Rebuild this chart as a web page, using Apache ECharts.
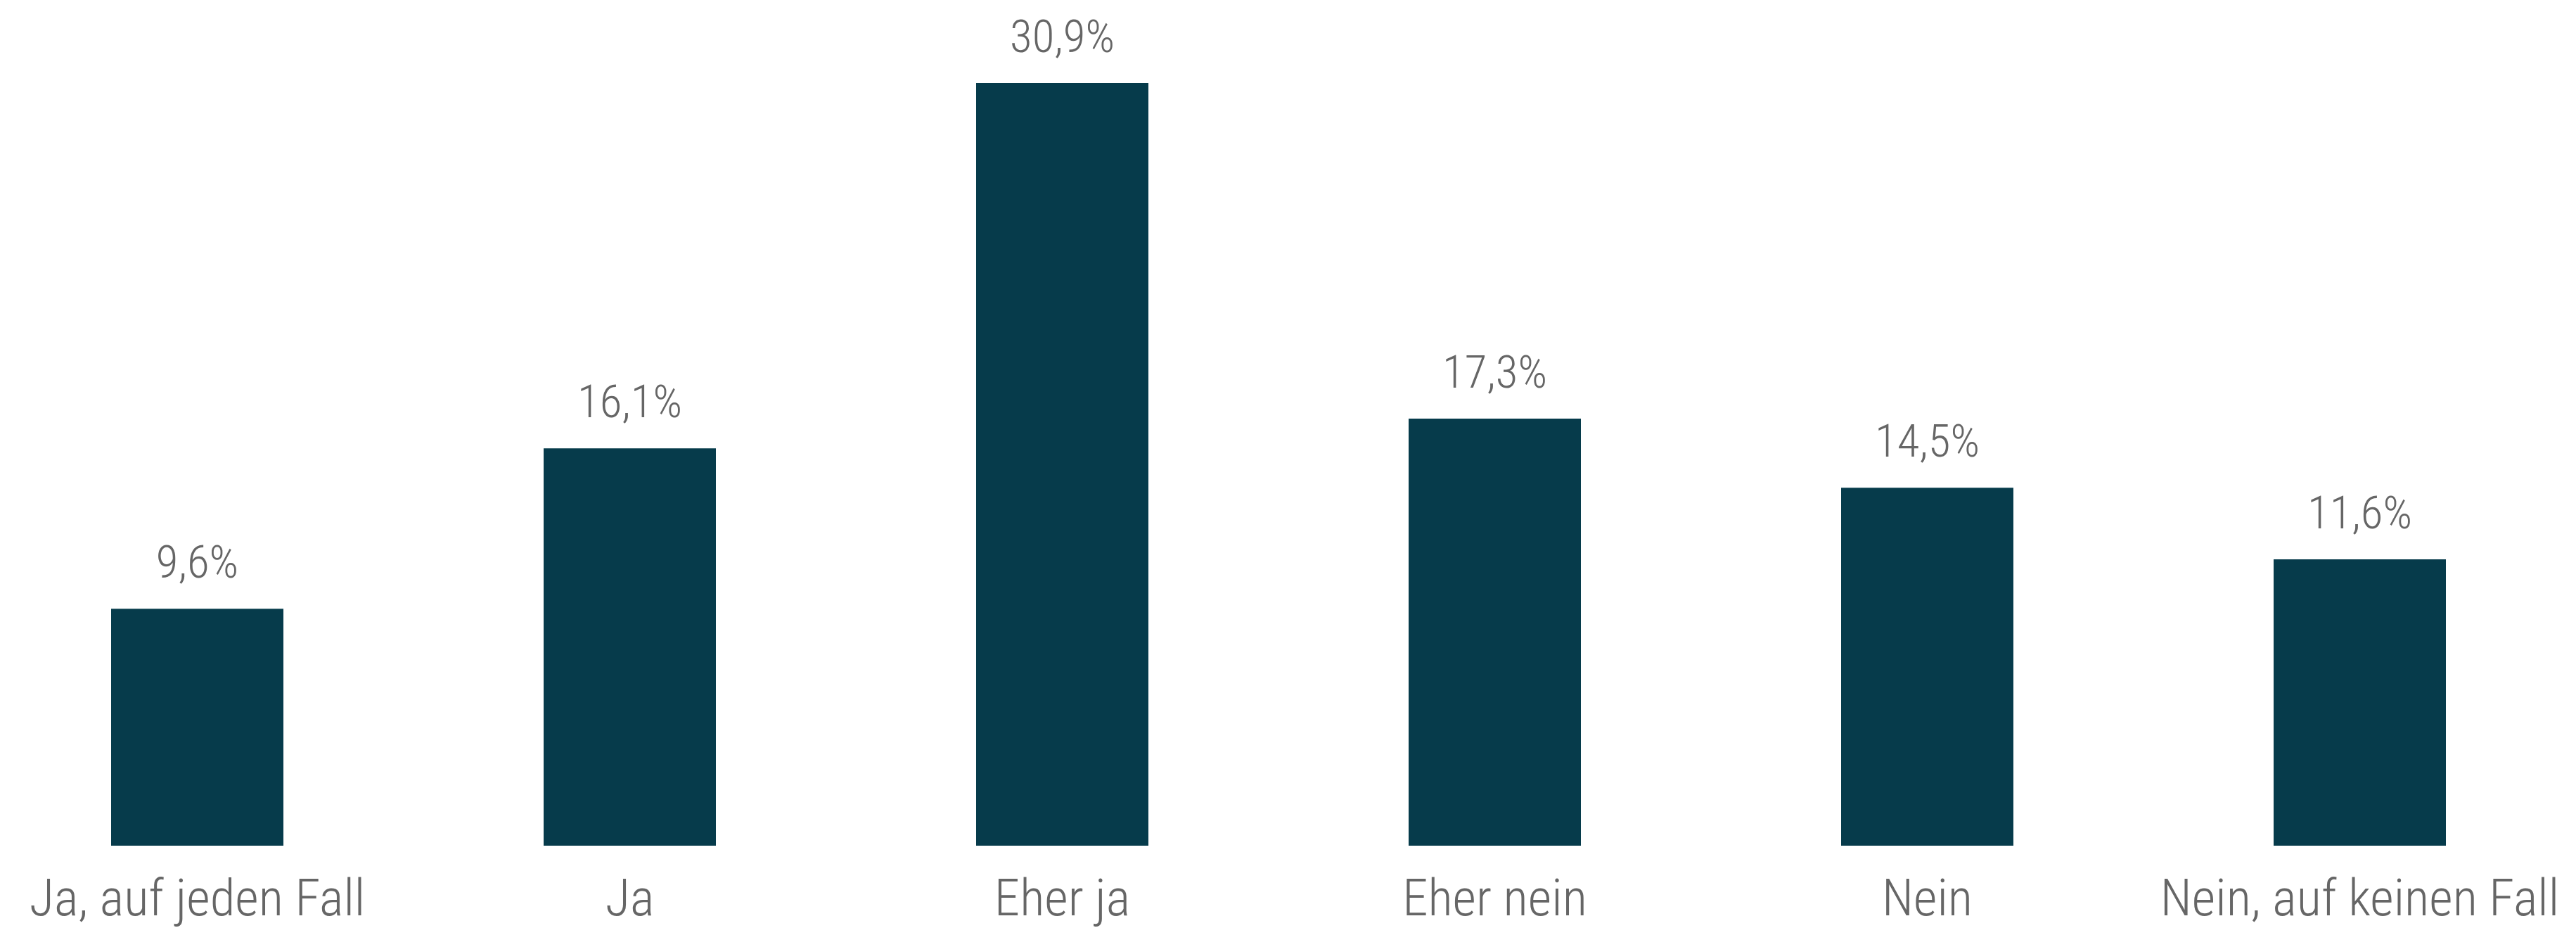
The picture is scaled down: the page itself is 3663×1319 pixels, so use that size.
<!DOCTYPE html>
<html>
<head>
<meta charset="utf-8">
<script src="https://cdn.jsdelivr.net/npm/echarts@6/dist/echarts.min.js"></script>
<style>
html,body{margin:0;padding:0;background:#fff;overflow:hidden;}
#chart{width:3690px;height:1319px;margin-left:-27px;}
</style>
</head>
<body>
<div id="chart"></div>
<script>
const categories = ["Ja, auf jeden Fall", "Ja", "Eher ja", "Eher nein", "Nein", "Nein, auf keinen Fall"];
const values = [9.6, 16.1, 30.9, 17.3, 14.5, 11.6];
const valueLabels = ["9,6%", "16,1%", "30,9%", "17,3%", "14,5%", "11,6%"];

const FONT = "'Roboto Condensed', 'Open Sans Condensed', 'DejaVu Sans Condensed', Roboto, sans-serif";
const chart = echarts.init(document.getElementById('chart'));
chart.setOption({
  backgroundColor: '#ffffff',
  animation: false,
  grid: { left: 0, right: 0, top: 118, bottom: 110, containLabel: false },
  xAxis: {
    type: 'category',
    data: categories,
    axisLine: { show: false },
    axisTick: { show: false },
    axisLabel: {
      interval: 0,
      margin: 44,
      fontFamily: FONT,
      fontWeight: 300,
      fontSize: 73,
      color: '#666666'
    }
  },
  yAxis: {
    type: 'value',
    min: 0,
    max: 30.9,
    show: false,
    splitLine: { show: false }
  },
  series: [{
    type: 'bar',
    data: values,
    barWidth: 245,
    itemStyle: { color: '#063b4b' },
    label: {
      show: true,
      position: 'top',
      distance: 28,
      fontFamily: FONT,
      fontWeight: 300,
      fontSize: 65,
      color: '#666666',
      formatter: p => valueLabels[p.dataIndex]
    }
  }]
});
</script>
</body>
</html>
